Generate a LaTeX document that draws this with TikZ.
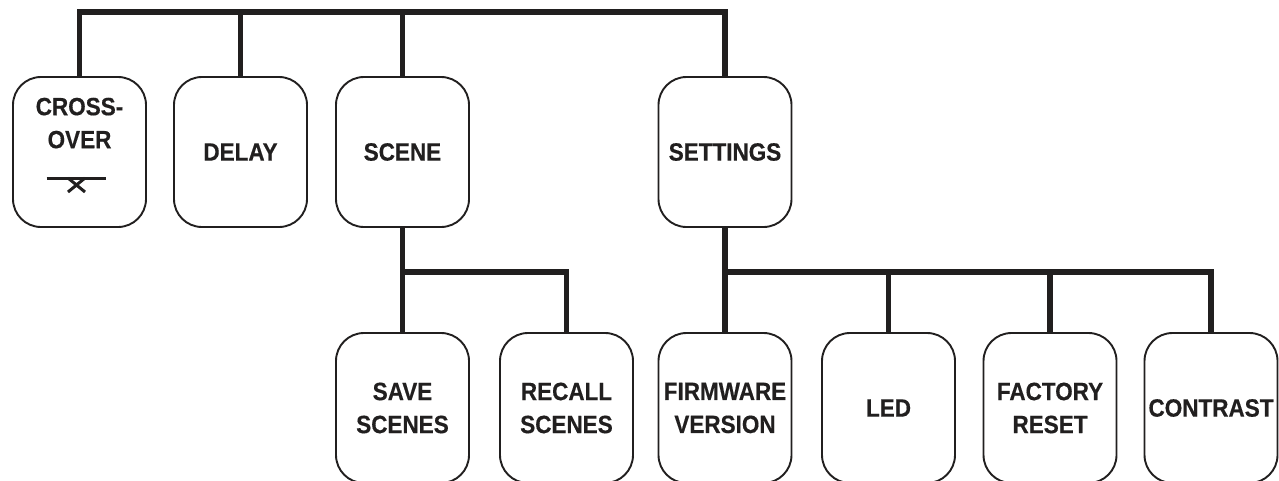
\documentclass[tikz,border=0pt]{standalone}
\usepackage{fontspec}
\setmainfont[FakeStretch=0.9,BoldFeatures={FakeBold=0.4}]{Liberation Sans}
\definecolor{Ink}{rgb}{0.13,0.12,0.12}
\usepackage{tikz}
\usetikzlibrary{calc}

\begin{document}
\begin{tikzpicture}[x=1pt,y=-1pt,
    menu/.style={draw=Ink,line width=1.9pt,rounded corners=28pt,
        minimum width=133pt,minimum height=150pt,align=center,
        text=Ink,font=\fontsize{25}{33}\selectfont\bfseries},
    bus/.style={draw=Ink,line width=5.5pt}]

    \useasboundingbox (0,0) rectangle (1279,480);

    \coordinate (top) at (0,12);   % upper bus
    \coordinate (sub) at (0,272);  % lower bus

    % first row
    \node[menu,text depth=58pt] (cross) at (79.5,152) {CROSS-\\OVER};
    \node[menu] (delay) at (240.5,152) {DELAY};
    \node[menu] (scene) at (402.5,152) {SCENE};
    \node[menu] (settings) at (725,152) {SETTINGS};

    % second row
    \node[menu] (save) at (402.5,408) {SAVE\\SCENES};
    \node[menu] (recall) at (566.5,408) {RECALL\\SCENES};
    \node[menu] (firmware) at (725,408) {FIRMWARE\\VERSION};
    \node[menu] (led) at (888.5,408) {LED};
    \node[menu] (factory) at (1050,408) {FACTORY\\RESET};
    \node[menu] (contrast) at (1211,408) {CONTRAST};

    % crossover sign
    \draw[Ink,line width=3pt] ($(cross.center)+(-33,26)$) -- ($(cross.center)+(26,26)$);
    \draw[Ink,line width=3pt]
        ($(cross.center)+(-11.5,26)$) -- ($(cross.center)+(5.5,40)$)
        ($(cross.center)+(5.5,26)$) -- ($(cross.center)+(-11.5,40)$);

    % upper bus
    \draw[bus] (cross.north) -- (cross.north |- top) -- (settings.north |- top) -- (settings.north);
    \foreach \n in {delay,scene}
        \draw[bus] (\n.north) -- (\n.north |- top);

    % scene bus
    \draw[bus] (scene.south) -- (save.north);
    \draw[bus] (scene.south |- sub) -- (recall.north |- sub) -- (recall.north);

    % settings bus
    \draw[bus] (settings.south) -- (firmware.north);
    \draw[bus] (settings.south |- sub) -- (contrast.north |- sub) -- (contrast.north);
    \foreach \n in {led,factory}
        \draw[bus] (\n.north) -- (\n.north |- sub);

\end{tikzpicture}
\end{document}
